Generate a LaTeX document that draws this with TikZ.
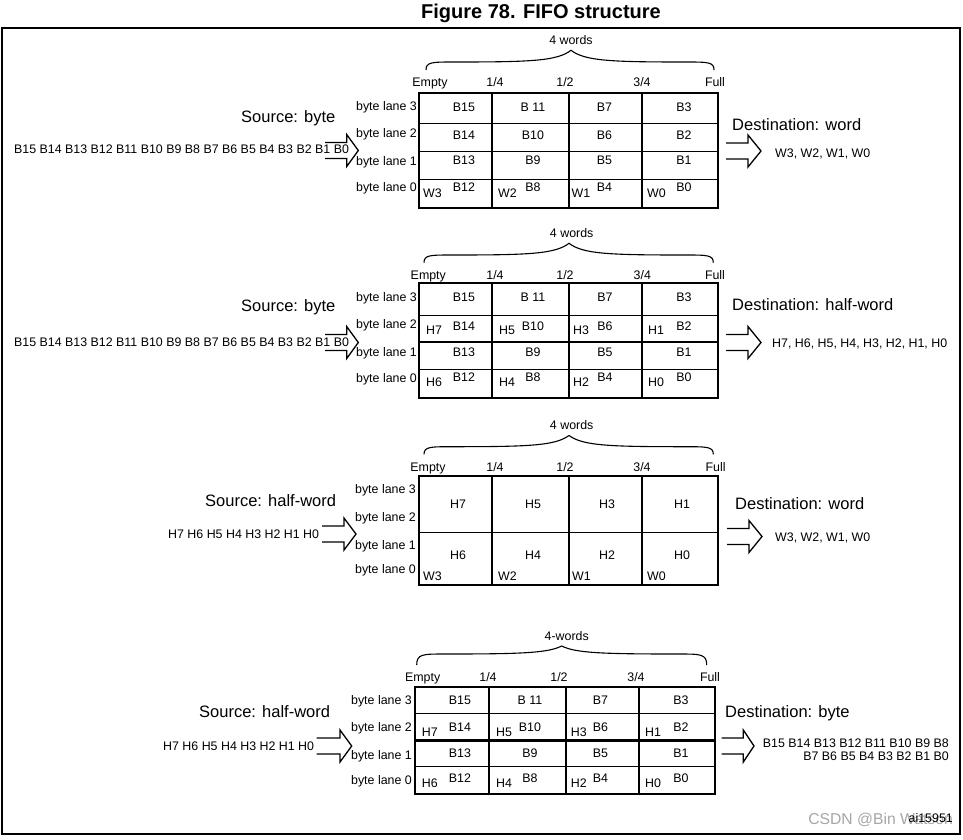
\documentclass[tikz,border=0pt]{standalone}
\usepackage{fontspec}
\setmainfont{Liberation Sans}
\tikzset{
  sm/.style={inner sep=0pt, font=\fontsize{12.4}{13}\selectfont, yshift=-4.4pt},
  lg/.style={inner sep=0pt, font=\fontsize{16.5}{18}\selectfont, yshift=-5.9pt},
  thk/.style={line width=2.6pt},
  thn/.style={line width=1pt},
  arw/.style={line width=1.3pt, line join=miter},
  brc/.style={line width=1.1pt},
}
\newcommand{\barrow}[5]{\draw[arw] (#1,#4-8) -- (#2,#4-8) -- (#2,#4-#5) -- (#3,#4) -- (#2,#4+#5) -- (#2,#4+8) -- (#1,#4+8);}
\newcommand{\fbrace}[6]{\draw[brc] (#1,#4) .. controls (#1,#5) and (#1+6,#5) .. (#1+28,#5) .. controls (#3-40,#5) and (#3-14,#5-1) .. (#3,#6) .. controls (#3+14,#5-1) and (#3+40,#5) .. (#2-28,#5) .. controls (#2-6,#5) and (#2,#5) .. (#2,#4);}
\begin{document}
\begin{tikzpicture}[x=1pt,y=-1pt]
\useasboundingbox (0,0) rectangle (963,839);
\node[inner sep=0pt, font=\bfseries\fontsize{20}{22}\selectfont, anchor=base, yshift=-7.1pt] (title) at (541,11) {Figure 78. FIFO structure};
\draw[line width=1.6pt] (2,28) rectangle (960,834);

% ================= Panel 1 =================
\fbrace{426}{714}{571}{70}{62}{50.3}
\node[sm,anchor=base] (p1w) at (571,40.5) {4 words};
\foreach \x/\t [count=\i] in {430/Empty,495/{1/4},565/{1/2},642/{3/4},715/Full}
  \node[sm,anchor=base] (p1f\i) at (\x,82) {\t};
\foreach \y/\n in {106/3,133.3/2,161/1,186.7/0}
  \node[sm,anchor=base east] (p1l\n) at (417,\y) {byte lane \n};
\foreach \y in {123,151,179} \draw[thn] (419,\y) -- (718,\y);
\foreach \x in {492,569,642} \draw[thk] (\x,93) -- (\x,208);
\draw[thk] (419,93) rectangle (718,208);
\foreach \y/\r/\a/\b/\c/\d in {106.7/3/B15/B 11/B7/B3,135/2/B14/B10/B6/B2,160/1/B13/B9/B5/B1,186.7/0/B12/B8/B4/B0}{
  \node[sm,anchor=base] (p1c\r-1) at (464,\y) {\a};
  \node[sm,anchor=base] (p1c\r-2) at (533,\y) {\b};
  \node[sm,anchor=base] (p1c\r-3) at (604.5,\y) {\c};
  \node[sm,anchor=base] (p1c\r-4) at (684,\y) {\d};
}
\foreach \x/\t [count=\i] in {423/W3,498/W2,571.5/W1,647/W0}
  \node[sm,anchor=base west] (p1W\i) at (\x,193.3) {\t};
\node[lg,anchor=base west] (p1src) at (241,116.5) {Source: byte};
\node[sm,anchor=base west] (p1in) at (14,149.5) {B15 B14 B13 B12 B11 B10 B9 B8 B7 B6 B5 B4 B3 B2 B1 B0};
\barrow{325}{346.7}{358.3}{150.5}{16}
\node[lg,anchor=base west] (p1dst) at (732,124.8) {Destination: word};
\barrow{726}{748}{761}{151}{16}
\node[sm,anchor=base west] (p1out) at (775,153) {W3, W2, W1, W0};

% ================= Panel 2 =================
\fbrace{424}{713.3}{569}{262.7}{255}{243.3}
\node[sm,anchor=base] (p2w) at (571.7,233.3) {4 words};
\foreach \x/\t [count=\i] in {428.3/Empty,495/{1/4},565/{1/2},642.3/{3/4},715/Full}
  \node[sm,anchor=base] (p2f\i) at (\x,275) {\t};
\foreach \y/\n in {297.3/3,324/2,351.7/1,378.3/0}
  \node[sm,anchor=base east] (p2l\n) at (417,\y) {byte lane \n};
\foreach \y in {315,369} \draw[thn] (419,\y) -- (718,\y);
\draw[thk] (419,342) -- (718,342);
\foreach \x in {492,569,642} \draw[thk] (\x,283) -- (\x,398);
\draw[thk] (419,283) rectangle (718,398);
\foreach \y/\r/\a/\b/\c/\d in {297.3/3/B15/B 11/B7/B3,325.7/2/B14/B10/B6/B2,351.7/1/B13/B9/B5/B1,377.3/0/B12/B8/B4/B0}{
  \node[sm,anchor=base] (p2c\r-1) at (464,\y) {\a};
  \node[sm,anchor=base] (p2c\r-2) at (533,\y) {\b};
  \node[sm,anchor=base] (p2c\r-3) at (605,\y) {\c};
  \node[sm,anchor=base] (p2c\r-4) at (684,\y) {\d};
}
\foreach \x/\t [count=\i] in {426/H7,499/H5,573/H3,648/H1}
  \node[sm,anchor=base west] (p2Hu\i) at (\x,330) {\t};
\foreach \x/\t [count=\i] in {426/H6,499/H4,573/H2,648/H0}
  \node[sm,anchor=base west] (p2Hl\i) at (\x,382.3) {\t};
\node[lg,anchor=base west] (p2src) at (241,305.5) {Source: byte};
\node[sm,anchor=base west] (p2in) at (14,342.5) {B15 B14 B13 B12 B11 B10 B9 B8 B7 B6 B5 B4 B3 B2 B1 B0};
\barrow{325}{346.7}{358.3}{342.5}{16}
\node[lg,anchor=base west] (p2dst) at (732,304.8) {Destination: half-word};
\barrow{726}{748}{761}{342.5}{16}
\node[sm,anchor=base west] (p2out) at (772,343) {H7, H6, H5, H4, H3, H2, H1, H0};

% ================= Panel 3 =================
\fbrace{424}{713.3}{569}{454.4}{446.7}{435.5}
\node[sm,anchor=base] (p3w) at (571.7,425.5) {4 words};
\foreach \x/\t [count=\i] in {428/Empty,495/{1/4},565/{1/2},642/{3/4},715.6/Full}
  \node[sm,anchor=base] (p3f\i) at (\x,466.7) {\t};
\foreach \y/\n in {489.3/3,517.3/2,545/1,569.3/0}
  \node[sm,anchor=base east] (p3l\n) at (416,\y) {byte lane \n};
\draw[thn] (419,532) -- (718,532);
\foreach \x in {492,569,642} \draw[thk] (\x,476) -- (\x,585);
\draw[thk] (419,476) rectangle (718,585);
\foreach \x/\t [count=\i] in {458/H7,533/H5,607/H3,682/H1}
  \node[sm,anchor=base] (p3Hu\i) at (\x,504) {\t};
\foreach \x/\t [count=\i] in {458/H6,533/H4,607/H2,682/H0}
  \node[sm,anchor=base] (p3Hl\i) at (\x,555) {\t};
\foreach \x/\t [count=\i] in {423/W3,498/W2,572/W1,647/W0}
  \node[sm,anchor=base west] (p3W\i) at (\x,576) {\t};
\node[lg,anchor=base west] (p3src) at (205,500.5) {Source: half-word};
\node[sm,anchor=base west] (p3in) at (168,534.5) {H7 H6 H5 H4 H3 H2 H1 H0};
\barrow{322}{344}{356}{534}{16}
\node[lg,anchor=base west] (p3dst) at (735,503.8) {Destination: word};
\barrow{727}{749}{762}{536.5}{16}
\node[sm,anchor=base west] (p3out) at (775,537.5) {W3, W2, W1, W0};

% ================= Panel 4 =================
\fbrace{416.7}{706.7}{561.7}{665}{654}{646}
\node[sm,anchor=base] (p4w) at (566.7,636) {4-words};
\foreach \x/\t [count=\i] in {422.7/Empty,488/{1/4},559/{1/2},636/{3/4},710/Full}
  \node[sm,anchor=base] (p4f\i) at (\x,677.3) {\t};
\foreach \y/\n in {700/3,727.3/2,755/1,780.5/0}
  \node[sm,anchor=base east] (p4l\n) at (412,\y) {byte lane \n};
\foreach \y in {713,766.5} \draw[thn] (415,\y) -- (715,\y);
\draw[thk] (415,740.5) -- (715,740.5);
\foreach \x in {489,566,639} \draw[thk] (\x,687) -- (\x,794);
\draw[thk] (415,687) rectangle (715,794);
\foreach \y/\r/\a/\b/\c/\d in {700/3/B15/B 11/B7/B3,727.3/2/B14/B10/B6/B2,753.3/1/B13/B9/B5/B1,778/0/B12/B8/B4/B0}{
  \node[sm,anchor=base] (p4c\r-1) at (460,\y) {\a};
  \node[sm,anchor=base] (p4c\r-2) at (530,\y) {\b};
  \node[sm,anchor=base] (p4c\r-3) at (600.5,\y) {\c};
  \node[sm,anchor=base] (p4c\r-4) at (681,\y) {\d};
}
\foreach \x/\t [count=\i] in {421.7/H7,496/H5,570.7/H3,645/H1}
  \node[sm,anchor=base west] (p4Hu\i) at (\x,731.7) {\t};
\foreach \x/\t [count=\i] in {421.7/H6,496/H4,570.7/H2,645/H0}
  \node[sm,anchor=base west] (p4Hl\i) at (\x,783.5) {\t};
\node[lg,anchor=base west] (p4src) at (199,711.5) {Source: half-word};
\node[sm,anchor=base west] (p4in) at (163,746) {H7 H6 H5 H4 H3 H2 H1 H0};
\barrow{316.7}{340}{351.7}{746}{16}
\node[lg,anchor=base west] (p4dst) at (725,711.7) {Destination: byte};
\barrow{721.7}{743.3}{754}{746}{16}
\node[sm,anchor=base east] (p4out1) at (949,743.3) {B15 B14 B13 B12 B11 B10 B9 B8};
\node[sm,anchor=base east] (p4out2) at (949,756) {B7 B6 B5 B4 B3 B2 B1 B0};

% ================= footer =================
\node[inner sep=0pt, font=\fontsize{15.7}{17}\selectfont, text=black!35, anchor=base east, yshift=-5.6pt] (wm) at (953,818.5) {CSDN @Bin Watson};
\node[sm,anchor=base east] (ai) at (953,818) {ai15951};
\end{tikzpicture}
\end{document}
